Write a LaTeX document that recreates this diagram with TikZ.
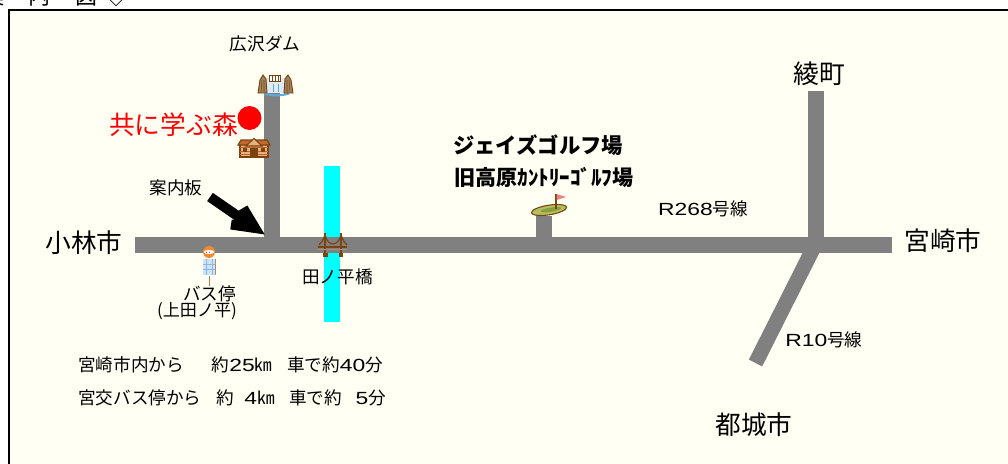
\documentclass[tikz,border=0pt]{standalone}
\usepackage{fontspec}
\setmainfont{Noto Sans CJK JP}
\newfontfamily\latwide[FakeStretch=1.3]{Liberation Sans}
\usetikzlibrary{arrows.meta}
\definecolor{paper}{HTML}{FFFFF3}
\definecolor{road}{HTML}{808080}
\definecolor{river}{HTML}{00FFFF}
\definecolor{wood}{HTML}{7A4310}
\definecolor{woodl}{HTML}{C0692A}
\definecolor{woodp}{HTML}{E8B080}
\definecolor{rock}{HTML}{A08460}
\definecolor{fall}{HTML}{DCEBF5}
\definecolor{lake}{HTML}{5FA8D8}
\definecolor{sign}{HTML}{CFE3F7}
\definecolor{signl}{HTML}{8DB8EA}
\definecolor{busor}{HTML}{F08A30}
\definecolor{green1}{HTML}{B4C060}
\definecolor{green2}{HTML}{8A9E40}
\definecolor{flag}{HTML}{F08080}
\tikzset{
  road/.style={line width=12pt,draw=road},
  lbl/.style={inner sep=0pt,font=\fontsize{13.2}{15}\selectfont},
  big/.style={inner sep=0pt,font=\fontsize{19.3}{21}\selectfont},
  note/.style={inner sep=0pt,anchor=west,font=\fontsize{13.2}{15}\selectfont},
  golf/.style={inner sep=0pt,anchor=west,font=\bfseries\fontsize{16}{18}\selectfont},
  pointer/.style={line width=7.5pt,miter limit=10}
}
\begin{document}
\begin{tikzpicture}[x=0.75pt,y=-0.75pt]
\useasboundingbox (0,0) rectangle (1008,464);
\fill[white] (0,0) rectangle (1008,464);
\fill[paper] (9,10) rectangle (1008,464);
\draw[line width=1.5pt] (9,464) -- (9,10) -- (1008,10);
\node[inner sep=0pt,anchor=base west,font=\fontsize{16.5}{18}\selectfont] (title) at (-18,5) {案\kern18.5pt 内\kern18.5pt 図\kern6pt ◇};
% river
\coordinate (rivtop) at (332,166);
\coordinate (rivbot) at (332,322);
\draw[line width=12pt,draw=river] (rivtop) -- (rivbot);
% roads
\coordinate (rw) at (135,245);
\coordinate (re) at (892,245);
\coordinate (rdam) at (272,92);
\coordinate (rdamj) at (272,245);
\coordinate (raya) at (816,91);
\coordinate (rayaj) at (816,245);
\coordinate (rgolf) at (544,216);
\coordinate (rgolfj) at (544,245);
\coordinate (r10a) at (814,247);
\coordinate (r10b) at (755.5,363);
\draw[road] (rdam) -- (rdamj);
\draw[road] (raya) -- (rayaj);
\draw[road] (rgolf) -- (rgolfj);
\draw[road,line width=11.2pt] (r10a) -- (r10b);
\draw[road] (rw) -- (re);
% labels
\node[lbl] (dam) at (265,44) {広沢ダム};
\node[inner sep=0pt,text=red,font=\fontsize{19.3}{21}\selectfont] (mori) at (173.5,125) {共に学ぶ森};
\fill[red] (249.5,118) circle[radius=9pt] coordinate (dot);
\node[lbl] (annai) at (176,187.5) {案内板};
\node[lbl] (hashi) at (337.5,277) {田ノ平橋};
\node[lbl] (bus) at (209.5,294) {バス停};
\node[lbl,font=\fontsize{12.8}{15}\selectfont] (bus2) at (197,311) {(上田ノ平)};
\node[big] (kob) at (84,243) {小林市};
\node[big] (miya) at (943,241) {宮崎市};
\node[big] (aya) at (819,73.5) {綾町};
\node[big] (miyako) at (754,425) {都城市};
\node[lbl] (r268) at (703,209) {{\latwide R268}号線};
\node[lbl] (r10) at (824,340) {{\latwide R10}号線};
\node[golf] (g1) at (453,145.5) {ジェイズゴルフ場};
\node[golf,font=\bfseries\fontsize{15.8}{18}\selectfont] (g2) at (454,177) {旧高原ｶﾝﾄﾘｰｺﾞﾙﾌ場};
\node[note] (n1) at (78,365) {宮崎市内から\kern21pt 約{\latwide 25}㎞\kern11pt 車で約{\latwide 40}分};
\node[note] (n2) at (78,398) {宮交バス停から\kern11pt 約\kern8pt {\latwide 4}㎞\kern11pt 車で約\kern10pt {\latwide 5}分};
% arrow
\coordinate (arra) at (210,197);
\coordinate (arrb) at (255,228);
\coordinate (barb1) at (231,224.5);
\coordinate (barb2) at (243,208);
\draw[pointer] (arra) -- (arrb);
\draw[pointer] (barb1) -- (arrb) -- (barb2);
% dam icon
\fill[fall] (265,78) rectangle (286,93);
\draw[lake,line width=.5pt] (273,84) -- (273,92) (278,84) -- (278,92);
\draw[lake,line width=1.6pt] (264,93.5) .. controls (272,96) and (280,96) .. (289,93.5);
\draw[wood,fill=rock,line width=.7pt] (258,93) -- (260,80) -- (263,75) -- (266,79) -- (267,93) -- cycle;
\draw[wood,fill=rock,line width=.7pt] (284,93) -- (285,79) -- (288,75) -- (291,80) -- (293,93) -- cycle;
\draw[wood,line width=.4pt] (261,92) -- (262,80) (264,92) -- (264,80) (287,92) -- (287,80) (290,92) -- (289,80);
\draw[wood,fill=white,line width=.7pt] (269,75) rectangle (280,81);
\draw[wood,line width=.5pt] (272,76) -- (272,81) (275,76) -- (275,81) (278,76) -- (278,81);
% house icon
\fill[woodp,draw=wood,line width=.8pt] (240,144) rectangle (268,157);
\draw[woodl,line width=.3pt] (240,147) -- (268,147) (240,151) -- (268,151) (240,154) -- (268,154);
\fill[woodl,draw=wood,line width=.8pt] (238,145) -- (241,140) -- (267,140) -- (270,145) -- cycle;
\draw[wood,fill=woodp,line width=.8pt] (246,146) -- (254,138.5) -- (262,146) -- cycle;
\fill[wood] (250,148) rectangle (258,157);
\fill[wood] (243,148) rectangle (247,152);
\fill[wood] (261,148) rectangle (265,152);
% bus stop icon
\draw[wood!70!white,line width=.7pt] (209,276) -- (209,286);
\fill[sign] (203,259) rectangle (215,275);
\draw[wood!60!white,line width=.4pt] (215.5,259) -- (215.5,275);
\draw[signl,line width=.4pt] (206,259) -- (206,275) (212,259) -- (212,275) (203,264) -- (215,264) (203,269) -- (215,269);
\fill[busor] (209,252) circle[radius=4.5pt];
\fill[white] (209,252) ellipse[x radius=4pt,y radius=1.5pt];
\draw[red!70!white,line width=.4pt,dotted] (206,252) -- (212,252);
% bridge icon
\draw[wood,line width=1.2pt] (325,253) -- (325,233) (341,253) -- (341,233);
\draw[wood,line width=.9pt] (319,245) .. controls (322,242) .. (325,235) .. controls (328,247) and (338,247) .. (341,235) .. controls (344,242) .. (347,245);
\draw[wood,line width=1.6pt] (318,247) -- (347,247);
\draw[wood!60!white,line width=.6pt] (318,249.5) -- (347,249.5);
\fill[wood] (323,253) rectangle (327.5,257);
\fill[wood] (338.5,253) rectangle (343,257);
% golf icon
\draw[wood,fill=green1,line width=.8pt,rotate around={9:(549,210)}] (549,210) ellipse[x radius=13.3pt,y radius=3.6pt];
\fill[green2,rotate around={9:(549,210)}] (551,210) ellipse[x radius=8pt,y radius=1.6pt];
\draw[wood,line width=1pt] (556,209) -- (556,194);
\fill[flag] (556.5,194) -- (566,197) -- (556.5,200) -- cycle;
\end{tikzpicture}
\end{document}
